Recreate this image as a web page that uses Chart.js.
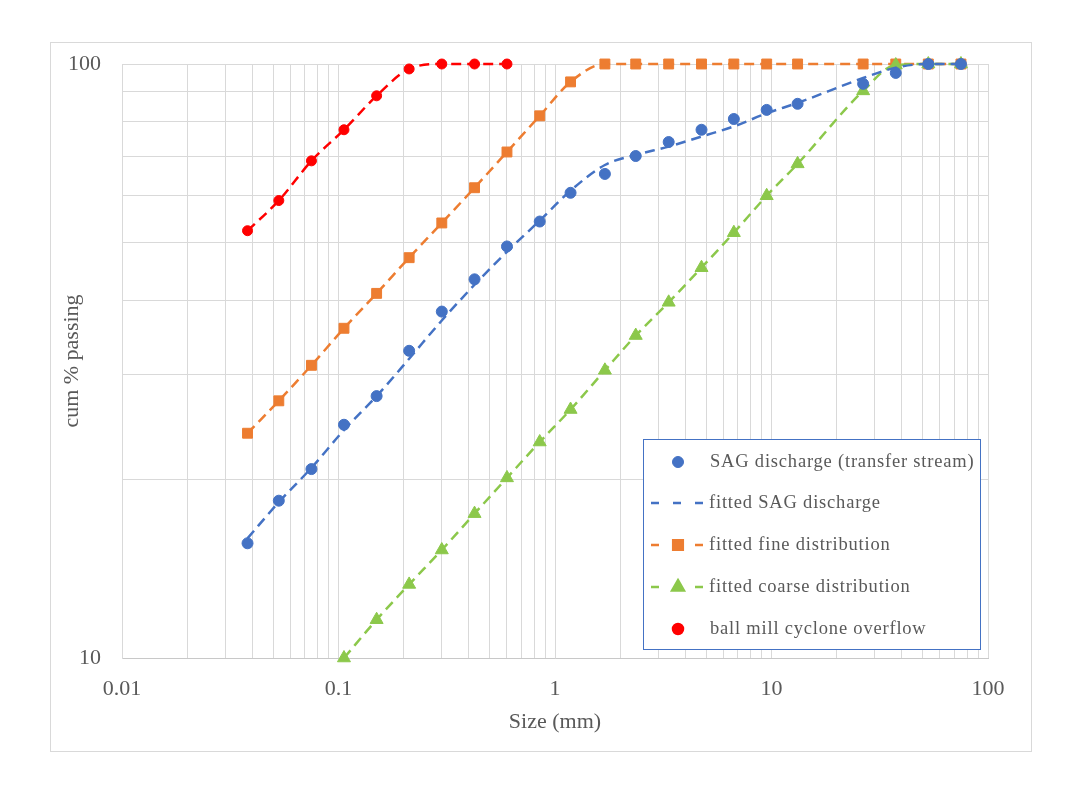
<!DOCTYPE html>
<html>
<head>
<meta charset="utf-8">
<title>Size distributions</title>
<script src="https://cdn.jsdelivr.net/npm/chart.js@4.4.1/dist/chart.umd.min.js"></script>
<style>
    html, body { margin: 0; padding: 0; background: #fff; }
    #wrap { position: relative; width: 1076px; height: 787px; }
    #frame { position: absolute; left: 50px; top: 42px; width: 980px; height: 708px; border: 1px solid #d9d9d9; }
    #psdChart { position: absolute; left: 0; top: 0; }
</style>
</head>
<body>
<div id="wrap">
    <div id="frame"></div>
    <canvas id="psdChart" width="1076" height="787"></canvas>
</div>
<script>
// sieve sizes (mm)
const sieveSizes = [0.038, 0.053, 0.075, 0.106, 0.15, 0.212, 0.3, 0.425, 0.6, 0.85, 1.18, 1.7, 2.36, 3.35, 4.75, 6.7, 9.5, 13.2, 26.5, 37.5, 53, 75];

// cum % passing, one value per sieve (null = not measured)
const sagDischarge = [15.6, 18.4, 20.8, 24.7, 27.6, 32.9, 38.3, 43.4, 49.3, 54.3, 60.7, 65.3, 70.0, 73.9, 77.5, 80.8, 83.7, 85.7, 92.6, 96.6, 100, 100];
const fittedSag = [15.9, 18.3, 20.9, 24.2, 27.6, 31.9, 37.0, 42.5, 48.3, 54.5, 61.2, 67.6, 70.3, 72.6, 75.5, 78.5, 82.6, 86.0, 94.7, 98.6, 100, 100];
const fittedFine = [23.9, 27.1, 31.1, 35.9, 41.1, 47.2, 54.0, 61.9, 71.1, 81.8, 93.3, 100, 100, 100, 100, 100, 100, 100, 100, 100, 100, 100];
const fittedCoarse = [null, null, null, 10.0, 11.6, 13.3, 15.2, 17.5, 20.1, 23.1, 26.2, 30.5, 34.9, 39.7, 45.4, 52.0, 60.0, 67.9, 90.1, 99.6, 100, 100];
const ballMillOverflow = [52.4, 58.9, 68.7, 77.5, 88.4, 98.1, 100, 100, 100, null, null, null, null, null, null, null, null, null, null, null, null, null];

const seriesNames = ["SAG discharge (transfer stream)", "fitted SAG discharge", "fitted fine distribution", "fitted coarse distribution", "ball mill cyclone overflow"];

// axis labels
const xDecades = [0.01, 0.1, 1, 10, 100];
const yDecades = [10, 100];

const BLUE = '#4472c4';
const ORANGE = '#ed7d31';
const GREEN = '#8cc84b';
const RED = '#ff0000';
const TEXT = '#595959';
const FONT = "'Liberation Serif', 'Times New Roman', serif";

function toPoints(values) {
    const pts = [];
    values.forEach(function (v, i) {
        if (v !== null) {
            pts.push({ x: sieveSizes[i], y: v });
        }
    });
    return pts;
}

// gridline positions: 1..9 times every decade
function logGrid(decades) {
    const out = [];
    for (let i = 0; i < decades.length - 1; i++) {
        for (let m = 1; m < 10; m++) {
            out.push(decades[i] * m);
        }
    }
    out.push(decades[decades.length - 1]);
    return out;
}

function decadeLabel(decades, value) {
    const d = decades.find(function (v) { return Math.abs(v - value) < v * 1e-6; });
    return d !== undefined ? String(d) : '';
}

const boxLegend = {
    id: 'boxLegend',
    afterDraw(chart) {
        const ctx = chart.ctx;
        const left = 643.5, top = 439.5, w = 337, h = 210;
        const rows = [462, 503, 545, 587, 629];
        ctx.save();
        ctx.fillStyle = '#fff';
        ctx.fillRect(left, top, w, h);
        ctx.strokeStyle = BLUE;
        ctx.lineWidth = 1;
        ctx.strokeRect(left, top, w, h);

        const samples = [
            { line: null, style: 'circle', r: 5.5, color: BLUE },
            { line: BLUE, style: null },
            { line: ORANGE, style: 'rect', r: 6.8, color: ORANGE },
            { line: GREEN, style: 'triangle', r: 6.8, color: GREEN },
            { line: null, style: 'circle', r: 5, color: RED }
        ];
        samples.forEach(function (s, i) {
            const y = rows[i];
            if (s.line) {
                ctx.strokeStyle = s.line;
                ctx.lineWidth = 2.5;
                ctx.beginPath();
                ctx.moveTo(651, y); ctx.lineTo(659, y);
                if (!s.style) { ctx.moveTo(673, y); ctx.lineTo(681, y); }
                ctx.moveTo(695, y); ctx.lineTo(703, y);
                ctx.stroke();
            }
            if (s.style) {
                ctx.fillStyle = s.color;
                ctx.strokeStyle = s.color;
                Chart.helpers.drawPoint(ctx, { pointStyle: s.style, radius: s.r, rotation: 0, borderWidth: 1 }, 678, y);
            }
            ctx.fillStyle = TEXT;
            ctx.font = "18.5px " + FONT;
            ctx.letterSpacing = '0.8px';
            ctx.textBaseline = 'middle';
            ctx.textAlign = 'left';
            ctx.fillText(seriesNames[i], i === 0 || i === 4 ? 710 : 709, y);
        });
        ctx.restore();
    }
};

const lineBase = {
    showLine: true,
    borderWidth: 2.5,
    borderDash: [10, 6],
    cubicInterpolationMode: 'monotone',
    clip: false
};

const psdChart = new Chart(document.getElementById('psdChart').getContext('2d'), {
    type: 'scatter',
    data: {
        datasets: [
            Object.assign({}, lineBase, {
                label: seriesNames[2],
                data: toPoints(fittedFine),
                borderColor: ORANGE,
                backgroundColor: ORANGE,
                pointStyle: 'rect',
                pointRadius: 7,
                pointBorderWidth: 1,
                order: 5
            }),
            Object.assign({}, lineBase, {
                label: seriesNames[3],
                data: toPoints(fittedCoarse),
                borderColor: GREEN,
                backgroundColor: GREEN,
                pointStyle: 'triangle',
                pointRadius: 7.5,
                pointBorderWidth: 1,
                order: 4
            }),
            Object.assign({}, lineBase, {
                label: seriesNames[4],
                data: toPoints(ballMillOverflow),
                borderColor: RED,
                backgroundColor: RED,
                pointStyle: 'circle',
                pointRadius: 5,
                pointBorderWidth: 1,
                order: 3
            }),
            Object.assign({}, lineBase, {
                label: seriesNames[1],
                data: toPoints(fittedSag),
                borderColor: BLUE,
                pointRadius: 0,
                order: 2
            }),
            {
                label: seriesNames[0],
                data: toPoints(sagDischarge),
                showLine: false,
                borderColor: BLUE,
                backgroundColor: BLUE,
                pointStyle: 'circle',
                pointRadius: 5.5,
                pointBorderWidth: 1,
                clip: false,
                order: 1
            }
        ]
    },
    options: {
        responsive: false,
        animation: false,
        devicePixelRatio: 1,
        layout: { padding: { left: 55, top: 64, right: 88, bottom: 50 } },
        plugins: {
            legend: { display: false },
            tooltip: { enabled: false }
        },
        scales: {
            x: {
                type: 'logarithmic',
                min: 0.01,
                max: 100,
                afterBuildTicks: function (scale) {
                    scale.ticks = logGrid(xDecades).map(function (v) { return { value: v }; });
                },
                afterFit: function (scale) { scale.height = 79; },
                grid: { color: '#d9d9d9', lineWidth: 1, drawTicks: false },
                border: { color: '#c8c8c8' },
                ticks: {
                    autoSkip: false,
                    maxRotation: 0,
                    padding: 18,
                    color: TEXT,
                    font: { family: FONT, size: 22 },
                    callback: function (value) { return decadeLabel(xDecades, value); }
                },
                title: {
                    display: true,
                    text: 'Size (mm)',
                    color: TEXT,
                    font: { family: FONT, size: 22 },
                    padding: { top: 0, bottom: 2 }
                }
            },
            y: {
                type: 'logarithmic',
                min: 10,
                max: 100,
                afterBuildTicks: function (scale) {
                    scale.ticks = logGrid(yDecades).map(function (v) { return { value: v }; });
                },
                afterFit: function (scale) { scale.width = 67; },
                grid: { color: '#d9d9d9', lineWidth: 1, drawTicks: false },
                border: { color: '#d9d9d9' },
                ticks: {
                    autoSkip: false,
                    padding: 21,
                    color: TEXT,
                    font: { family: FONT, size: 22 },
                    callback: function (value) { return decadeLabel(yDecades, value); }
                },
                title: {
                    display: true,
                    text: 'cum % passing',
                    color: TEXT,
                    font: { family: FONT, size: 22 },
                    padding: { top: 4, bottom: 0 }
                }
            }
        }
    },
    plugins: [boxLegend]
});
</script>
</body>
</html>
